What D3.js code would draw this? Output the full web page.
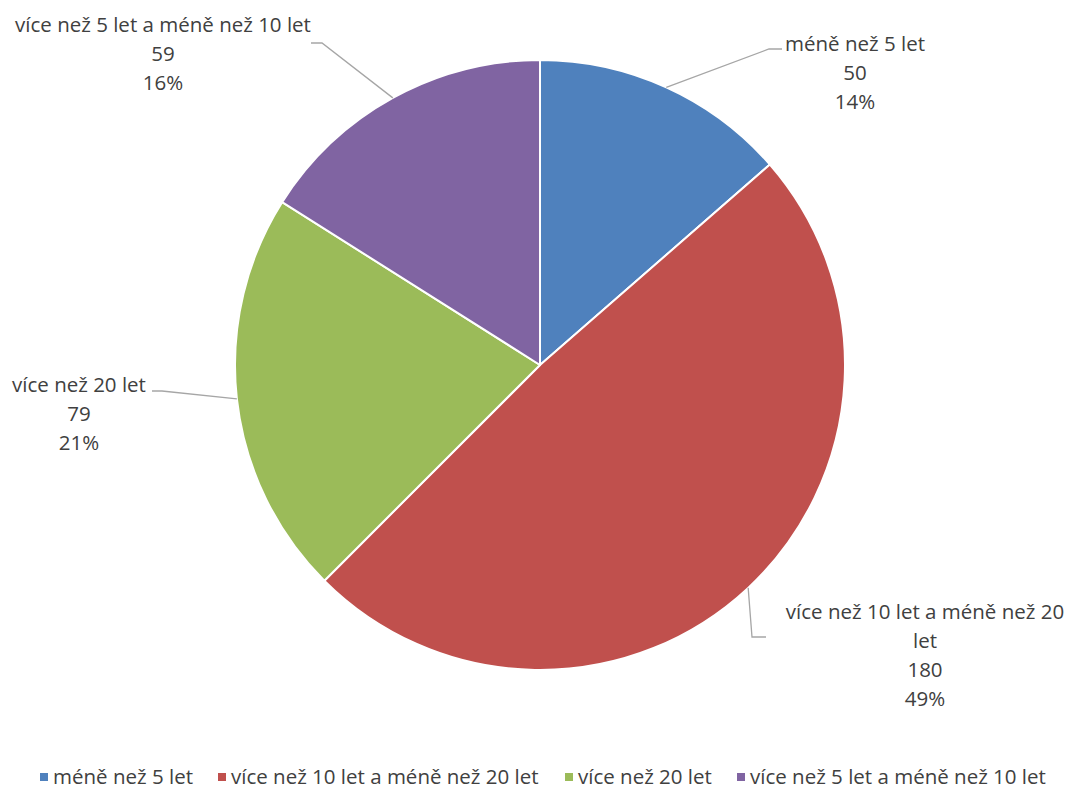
<!DOCTYPE html>
<html>
<head>
<meta charset="utf-8">
<script src="https://d3js.org/d3.v7.min.js"></script>
<style>
  body { margin: 0; background: #fff; }
  text { font-family: "Open Sans", "Liberation Sans", Arial, sans-serif; fill: #404040; }
</style>
</head>
<body>
<div id="chart"></div>
<script>
// data
var categories = ["méně než 5 let", "více než 10 let a méně než 20 let", "více než 20 let", "více než 5 let a méně než 10 let"];
var values = [50, 180, 79, 59];
var percents = ["14%", "49%", "21%", "16%"];
var colors = ["#4f81bd", "#c0504d", "#9bbb59", "#8064a2"];

// label layout (label block centre, elbow point, line end)
var labelLines = [
  ["méně než 5 let"],
  ["více než 10 let a méně než 20", "let"],
  ["více než 20 let"],
  ["více než 5 let a méně než 10 let"]
];
var labelPos = [
  { x: 855, y: 44, elbow: [769, 49], end: [782, 49] },
  { x: 925, y: 612, elbow: [752, 637], end: [766, 637] },
  { x: 79, y: 385, elbow: [162, 391], end: [152, 391] },
  { x: 163, y: 25, elbow: [322, 43], end: [311, 43] }
];

var W = 1073, H = 789;
var cx = 540, cy = 365, R = 305;

var svg = d3.select("#chart").append("svg").attr("width", W).attr("height", H);
var g = svg.append("g").attr("transform", "translate(" + cx + "," + cy + ")");

var pie = d3.pie().sort(null).value(function(d) { return d; });
var arcs = pie(values);
var arc = d3.arc().innerRadius(0).outerRadius(R);

g.selectAll("path.slice")
  .data(arcs)
  .enter().append("path")
  .attr("class", "slice")
  .attr("d", arc)
  .attr("fill", function(d, i) { return colors[i]; })
  .attr("stroke", "#fff")
  .attr("stroke-width", 2)
  .attr("stroke-linejoin", "round");

// leader lines + labels
arcs.forEach(function(d, i) {
  var a = (d.startAngle + d.endAngle) / 2;
  var sx = cx + R * Math.sin(a), sy = cy - R * Math.cos(a);
  var p = labelPos[i];
  svg.append("polyline")
    .attr("points", [[sx, sy], p.elbow, p.end].map(function(q) { return q.join(","); }).join(" "))
    .attr("fill", "none")
    .attr("stroke", "#a6a6a6")
    .attr("stroke-width", 1.3);

  var lines = labelLines[i].concat([String(values[i]), percents[i]]);
  var t = svg.append("text")
    .attr("text-anchor", "middle")
    .style("font-size", "20.5px");
  lines.forEach(function(s, k) {
    t.append("tspan")
      .attr("x", p.x)
      .attr("y", p.y + k * 29)
      .attr("dy", "0.35em")
      .text(s);
  });
});

// legend
var legendX = [40, 218, 565, 737];
var legend = svg.append("g");
categories.forEach(function(c, i) {
  legend.append("rect")
    .attr("x", legendX[i]).attr("y", 773)
    .attr("width", 8).attr("height", 8)
    .attr("fill", colors[i]);
  legend.append("text")
    .attr("x", legendX[i] + 13).attr("y", 777)
    .attr("dy", "0.35em")
    .style("font-size", "20.5px")
    .text(c);
});
</script>
</body>
</html>
